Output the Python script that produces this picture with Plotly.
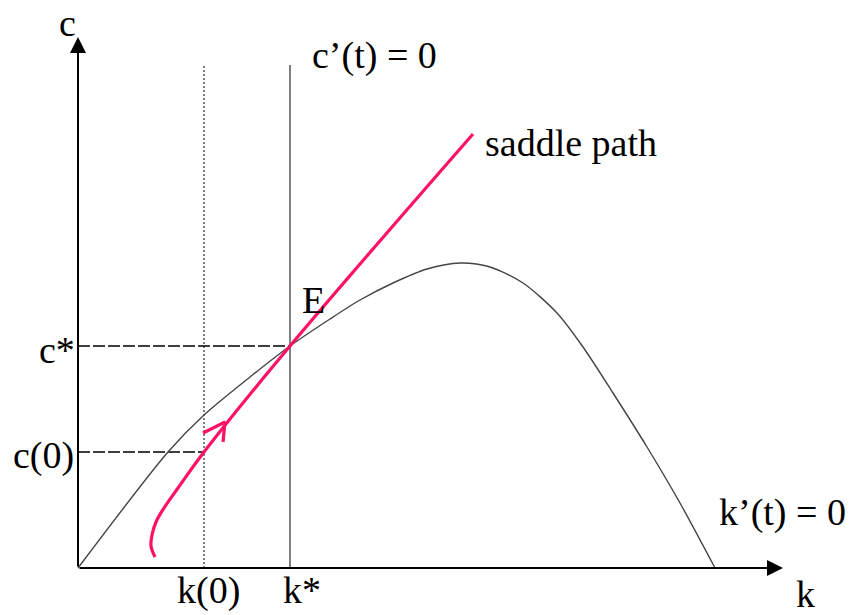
import plotly.graph_objects as go

# ---- data (model units: k horizontal, c vertical, origin at 0) ----
k_star, c_star = 212, 222
k_zero, c_zero = 126, 116
line_top = 503

hump_k = [0, 90, 126, 172, 212, 252, 282, 315, 349, 382, 412, 445, 479, 505, 535, 569, 602, 637]
hump_c = [0, 116, 153, 191, 222, 249, 268, 285, 299, 305, 301, 285, 255, 221, 175, 121, 65, 0]

saddle_k = [77, 73, 74, 78, 86, 100, 126, 212, 395]
saddle_c = [11, 22, 33, 46, 60, 80, 116, 222, 434]

arrow_k = [125, 147, 145]
arrow_c = [135, 146, 126]

k_axis_end, c_axis_end = 705, 531

PINK = "#FF1166"
FONT = "Liberation Serif"

fig = go.Figure()

# vertical dotted k(0) line
fig.add_trace(go.Scatter(x=[k_zero, k_zero], y=[0, line_top], mode="lines",
                         line=dict(color="black", width=1, dash="2px,2px")))
# vertical k* line  (c'(t)=0)
fig.add_trace(go.Scatter(x=[k_star, k_star], y=[0, line_top], mode="lines",
                         line=dict(color="#555555", width=1.5)))
# dashed horizontal c* and c(0)
fig.add_trace(go.Scatter(x=[0, k_star], y=[c_star, c_star], mode="lines",
                         line=dict(color="black", width=1.4, dash="12px,3px")))
fig.add_trace(go.Scatter(x=[0, k_zero], y=[c_zero, c_zero], mode="lines",
                         line=dict(color="black", width=1.4, dash="12px,3px")))
# k'(t)=0 hump
fig.add_trace(go.Scatter(x=hump_k, y=hump_c, mode="lines", line_shape="spline",
                         line=dict(color="#444444", width=1.4, smoothing=0.8)))
# saddle path
fig.add_trace(go.Scatter(x=saddle_k, y=saddle_c, mode="lines", line_shape="spline",
                         line=dict(color=PINK, width=3.2)))
fig.add_trace(go.Scatter(x=arrow_k, y=arrow_c, mode="lines",
                         line=dict(color=PINK, width=3.2)))

# axes with arrowheads
for (x, y) in [(k_axis_end, 0), (0, c_axis_end)]:
    fig.add_annotation(x=x, y=y, ax=0, ay=0, xref="x", yref="y", axref="x", ayref="y",
                       text="", showarrow=True, arrowhead=2, arrowsize=1.6,
                       arrowwidth=2, arrowcolor="black", standoff=0, startstandoff=0)

labels = [
    ("c", -11, 545, "center"),
    ("c’(t) = 0", 232, 513, "left"),
    ("saddle path", 405, 425, "left"),
    ("E", 235, 268, "center"),
    ("c*", -1, 218, "right"),
    ("c(0)", -2, 113, "right"),
    ("k(0)", 130, -22, "center"),
    ("k*", 224, -22, "center"),
    ("k’(t) = 0", 704, 56, "center"),
    ("k", 727, -26, "center"),
]
for text, x, y, xa in labels:
    fig.add_annotation(x=x, y=y, xref="x", yref="y", text=text, showarrow=False,
                       xanchor=xa, yanchor="middle",
                       font=dict(family=FONT, size=38, color="black"))

fig.update_layout(
    width=850, height=615, margin=dict(l=0, r=0, t=0, b=0),
    paper_bgcolor="white", plot_bgcolor="white", showlegend=False,
    xaxis=dict(range=[-78, 772], visible=False, fixedrange=True),
    yaxis=dict(range=[-47, 568], visible=False, fixedrange=True),
)

fig.write_html("out.html", config={"displayModeBar": False},
               post_script="document.body.style.margin='0';document.body.style.overflow='hidden';")
